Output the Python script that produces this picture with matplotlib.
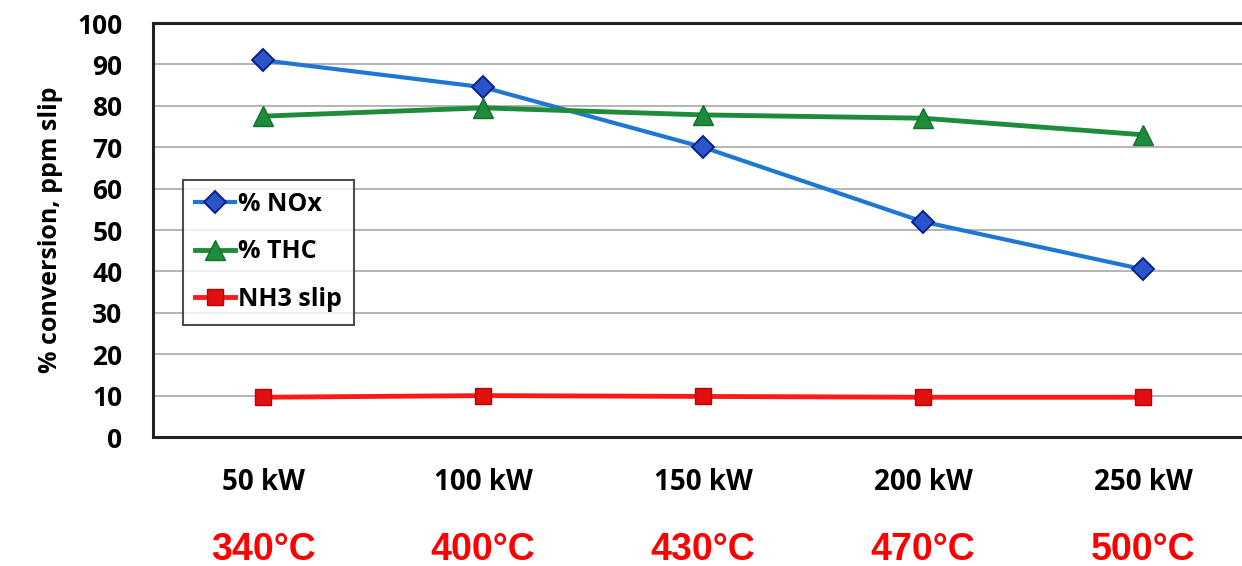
import matplotlib
matplotlib.use("Agg")
import matplotlib.pyplot as plt
from matplotlib.transforms import blended_transform_factory

categories = ["50 kW", "100 kW", "150 kW", "200 kW", "250 kW"]
temps = ["340°C", "400°C", "430°C", "470°C", "500°C"]
nox = [91, 84.5, 70, 52, 40.5]
thc = [77.5, 79.5, 77.8, 77, 73]
nh3 = [9.6, 10, 9.8, 9.6, 9.6]

W, H = 1242, 566
fig = plt.figure(figsize=(W / 100, H / 100), dpi=100)
left, right, top, bottom = 153, 1242, 23, 437
ax = fig.add_axes([left / W, 1 - bottom / H, (right - left) / W, (bottom - top) / H])

x = list(range(len(categories)))
ax.plot(x, nox, color="#1f77d4", lw=3, marker="D", ms=11, mfc="#2a55c8", mec="#0a1f8f", mew=1.4, label="% NOx")
ax.plot(x, thc, color="#1e8c3a", lw=3.5, marker="^", ms=14, mfc="#1e8c3a", mec="#13702b", label="% THC")
ax.plot(x, nh3, color="#ff1a1a", lw=3.5, marker="s", ms=12, mfc="#e01010", mec="#c00000", label="NH3 slip")

ax.set_ylim(0, 100)
ax.set_xlim(-0.5, 4.45)
ax.set_yticks(range(0, 101, 10))
ax.yaxis.grid(True, color="#a8a8a8", lw=1.2)
ax.set_axisbelow(True)
ax.set_xticks(x)
ax.set_xticklabels(categories)
ax.tick_params(axis="both", length=0)
ax.tick_params(axis="y", pad=22, labelsize=19)
ax.tick_params(axis="x", pad=22, labelsize=20)
for lab in ax.get_xticklabels() + ax.get_yticklabels():
    lab.set_fontweight("bold")
    lab.set_family("Open Sans")
for s in ["left", "bottom", "top"]:
    ax.spines[s].set_linewidth(2.2)
    ax.spines[s].set_color("#222222")
ax.spines["right"].set_visible(False)

ax.set_ylabel("% conversion, ppm slip", fontsize=18, fontweight="bold", family="Open Sans", labelpad=10)

leg = ax.legend(loc="upper left", bbox_to_anchor=(17 / (right - left), 1 - (167 - top) / (bottom - top)),
                frameon=True, fancybox=False, edgecolor="#222222",
                prop={"family": "Open Sans", "weight": "bold", "size": 18},
                handlelength=1.6, handletextpad=0.1, labelspacing=0.9, borderpad=0.5)
leg.get_frame().set_linewidth(1.5)

trans = blended_transform_factory(ax.transData, fig.transFigure)
for xi, t in zip(x, temps):
    fig.text(xi, 1 - 550 / H, t, transform=trans, ha="center", va="center",
             color="#ff0000", fontsize=27, fontweight="bold",
             family=["Liberation Sans Narrow", "Liberation Sans"])

fig.savefig("out.png", dpi=100)
